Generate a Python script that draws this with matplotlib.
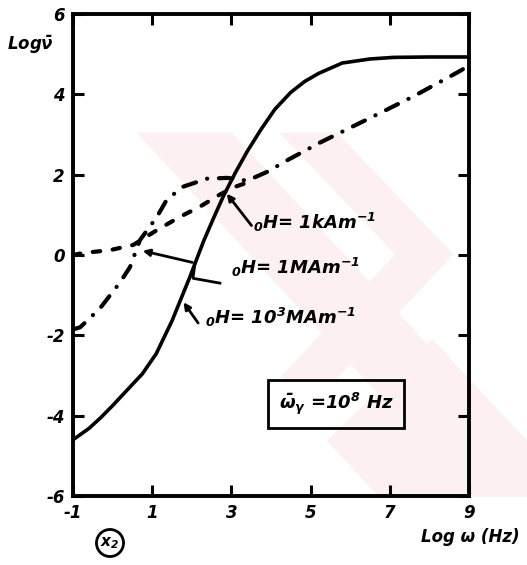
import matplotlib
matplotlib.use("Agg")
import matplotlib.pyplot as plt
from matplotlib.patches import Polygon

plt.rcParams["font.family"] = ["DejaVu Sans"]
plt.rcParams["mathtext.fontset"] = "custom"
plt.rcParams["mathtext.rm"] = "DejaVu Sans:bold:italic"
plt.rcParams["mathtext.it"] = "DejaVu Sans:bold:italic"

# curve for 0H = 10^3 MA/m (solid)
x_high = [-1, -0.6, -0.3, 0.0, 0.35, 0.75, 1.1, 1.5, 1.95, 2.3, 2.55, 2.8, 3.1, 3.4,
          3.75, 4.1, 4.5, 4.85, 5.2, 5.8, 6.5, 7.1, 8.0, 9.0]
y_high = [-4.6, -4.32, -4.05, -3.75, -3.38, -2.96, -2.46, -1.64, -0.55, 0.35, 0.92, 1.47,
          2.05, 2.58, 3.13, 3.63, 4.05, 4.32, 4.52, 4.78, 4.88, 4.92, 4.93, 4.93]

# curve for 0H = 1 kA/m (dashed)
x_low = [-1, -0.75, -0.07, 0.52, 1.12, 1.7, 2.2, 2.7, 3.1, 3.45]
y_low = [0.0, 0.05, 0.12, 0.25, 0.62, 0.95, 1.2, 1.5, 1.7, 1.82]

# curve for 0H = 1 MA/m (dash-dot)
x_mid = [-1, -0.82, -0.32, 0.19, 0.44, 0.69, 1.12, 1.37, 1.78, 2.38, 2.9, 3.4,
         3.97, 4.3, 5.24, 6.58, 7.6, 8.77, 9.0]
y_mid = [-1.85, -1.8, -1.33, -0.68, -0.3, 0.37, 0.95, 1.38, 1.7, 1.9, 1.92, 1.85,
         2.1, 2.3, 2.8, 3.45, 3.95, 4.58, 4.72]

x_ticks = [-1, 1, 3, 5, 7, 9]
x_ticklabels = ["-1", "1", "3", "5", "7", "9"]
y_ticks = [-6, -4, -2, 0, 2, 4, 6]
y_ticklabels = ["-6", "-4", "-2", "0", "2", "4", "6"]

labels = [r"$_0$H= 1kAm$^{-1}$", r"$_0$H= 1MAm$^{-1}$", r"$_0$H= 10$^3$MAm$^{-1}$"]

hand = dict(fontweight="bold", style="italic", color="black")

fig = plt.figure(figsize=(5.27, 5.65), dpi=100)
ax = fig.add_axes([73 / 527, 1 - 496 / 565, 396 / 527, 482 / 565])

# faint pink watermark of the scan, kept under the lines
pink = "#fdf0f2"
for poly in ([(0.26, 0.765), (0.44, 0.765), (0.93, 0.27), (0.75, 0.27)],
             [(0.53, 0.765), (0.64, 0.765), (0.86, 0.55), (0.64, 0.33), (0.53, 0.33), (0.75, 0.55)],
             [(0.82, 0.40), (1.0, 0.22), (1.0, 0.12), (0.72, 0.12), (0.62, 0.22)]):
    ax.add_patch(Polygon(poly, closed=True, transform=fig.transFigure, clip_on=False,
                         facecolor=pink, edgecolor="none", zorder=0.1))

ax.plot(x_high, y_high, color="black", lw=2.6, solid_capstyle="round", zorder=2)
ax.plot(x_low, y_low, color="black", lw=3, linestyle=(0, (1.8, 3.0)),
        dash_capstyle="round", zorder=2)
ax.plot(x_mid, y_mid, color="black", lw=3, linestyle=(0, (3.2, 2.8, 0.05, 2.8)),
        dash_capstyle="round", zorder=2)

ax.set_xlim(-1, 9)
ax.set_ylim(-6, 6)
ax.set_xticks(x_ticks)
ax.set_xticklabels(x_ticklabels)
ax.set_yticks(y_ticks)
ax.set_yticklabels(y_ticklabels)
ax.tick_params(direction="in", length=8, width=2.2, top=True, right=True,
               labelsize=12, pad=6)
for lab in ax.get_xticklabels() + ax.get_yticklabels():
    lab.set_fontweight("bold")
    lab.set_style("italic")
for s in ax.spines.values():
    s.set_linewidth(2.8)

# annotations pointing to curves
ax.text(3.55, 0.8, labels[0], fontsize=13, va="center", **hand)
ax.text(3.0, -0.3, labels[1], fontsize=13, va="center", **hand)
ax.text(2.33, -1.55, labels[2], fontsize=13, va="center", **hand)

ax.annotate("", xy=(2.84, 1.58), xytext=(3.55, 0.68),
            arrowprops=dict(arrowstyle="-|>", color="black", lw=2, mutation_scale=10))
ax.plot([2.71, 2.03, 2.08], [-0.7, -0.58, -0.2], color="black", lw=2)
ax.annotate("", xy=(0.69, 0.12), xytext=(2.08, -0.2),
            arrowprops=dict(arrowstyle="-|>", color="black", lw=2, mutation_scale=10))
ax.annotate("", xy=(1.75, -1.12), xytext=(2.2, -1.75),
            arrowprops=dict(arrowstyle="-|>", color="black", lw=2, mutation_scale=10))

ax.text(5.65, -3.7, r"$\bar{\omega}_\gamma$ =10$^8$ Hz", fontsize=13,
        ha="center", va="center", **hand,
        bbox=dict(boxstyle="square,pad=0.6", facecolor="none", edgecolor="black", lw=2))

fig.text(7 / 527, 1 - 45 / 565, r"Log$\bar{\nu}$", fontsize=12, va="center", **hand)
fig.text(470 / 527, 1 - 537 / 565, "Log \u03c9 (Hz)", fontsize=12, ha="center",
         va="center", **hand)
fig.text(110 / 527, 1 - 543 / 565, r"x$_2$", fontsize=11, ha="center", va="center",
         **hand, bbox=dict(boxstyle="circle,pad=0.25", facecolor="none",
                           edgecolor="black", lw=2))

fig.savefig("out.png", dpi=100)
